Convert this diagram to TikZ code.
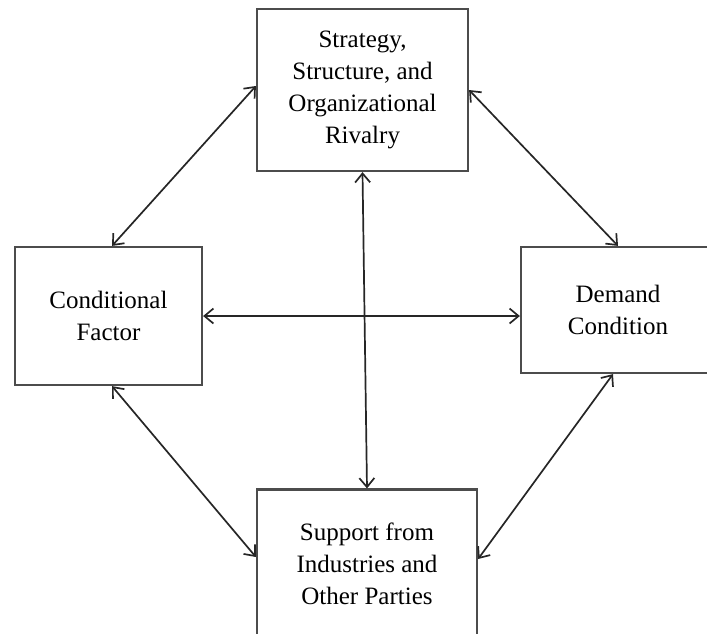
\documentclass[tikz,border=0pt]{standalone}
\usepackage{fontspec}
\setmainfont{Liberation Serif}
\usetikzlibrary{arrows.meta}

\begin{document}
\begin{tikzpicture}
    [x=1pt, y=-1pt, every node/.style={align=center,
      rectangle, draw=black!70, line width=2.2pt, inner sep=0pt,
      font=\fontsize{25}{32}\selectfont},
     link/.style = {{Straight Barb[length=9pt,width=15pt]}-{Straight Barb[length=9pt,width=15pt]},
      line width=1.7pt, black!85}]

    \clip (0,0) rectangle (707,633);

    \node (str) [minimum width=211pt, minimum height=162pt] at (362.5,90)
    {Strategy,\\
      Structure, and\\
      Organizational\\
      Rivalry
    };
    \node (fac) [minimum width=187pt, minimum height=138pt] at (108.5,316)
    {Conditional\\
      Factor
    };
    \node (dem) [minimum width=194pt, minimum height=126pt] at (618,310)
    {Demand\\
      Condition
    };
    \node (sup) [minimum width=220pt, minimum height=149pt] at (367,564)
    {Support from\\
      Industries and\\
      Other Parties
    };
    \draw[link] ([xshift=3.5pt]fac.north) -- ([yshift=4pt]str.west);
    \draw[link] (str.east) -- (dem.north);
    \draw[link] ([xshift=-5pt]dem.south) -- ([yshift=5pt]sup.east);
    \draw[link] ([xshift=3.5pt]fac.south) -- ([yshift=7pt]sup.west);
    \draw[link] (fac.east) -- (fac.east -| dem.west);
    \draw[link] (str.south) -- (sup.north);
  \end{tikzpicture}
\end{document}
